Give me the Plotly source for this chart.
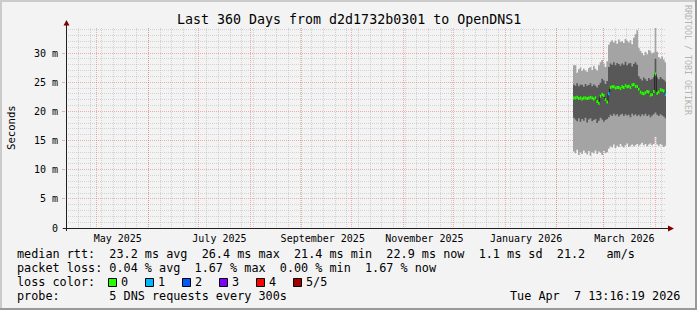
import math
import pandas as pd
import plotly.graph_objects as go

# ---------------- data ----------------
range_start = "2025-04-12 13:16:19"
range_end = "2026-04-07 13:16:19"
first_sample = "2026-02-10 18:00"

# median RTT per column (ms)
median_ms = [22.3, 22.3, 22.4, 22.2, 22.3, 22.1, 22.3, 22.3, 22.2, 22.3,
             22.4, 22.3, 22.1, 22.3, 21.7, 21.4, 22.6, 22.9, 22.7, 22.0,
             21.6, 23.0, 24.1, 24.2, 24.2, 24.0, 24.1, 24.1, 23.9, 24.2,
             24.1, 24.4, 24.2, 24.3, 24.1, 24.5, 24.6, 24.3, 24.2, 23.8,
             23.3, 23.1, 23.0, 23.2, 23.4, 23.3, 22.8, 22.9, 23.4, 26.4,
             23.1, 23.3, 23.7, 23.6, 23.5, 22.9]
# packet loss per column (%)
loss_pct = [0] * 21 + [1.67] + [0] * 33 + [1.67]
# smoke: lowest ping, 2nd ping, 4th ping, highest ping (ms)
ping1_ms = [13.1, 12.8, 13.4, 12.5, 13.0, 12.7, 13.3, 12.9, 12.6, 13.2,
            12.4, 13.0, 12.8, 13.3, 12.7, 13.1, 12.9, 12.5, 13.2, 12.8,
            13.0,
            13.6, 14.0, 13.8, 14.3, 13.7, 14.1, 13.9, 14.4, 14.0, 13.8,
            14.2, 14.5, 13.9, 14.1, 14.3, 14.0, 14.2, 14.4, 14.1, 14.3,
            14.6, 14.2, 14.4, 14.0, 14.3, 14.5, 14.2, 14.4, 15.6, 14.3,
            14.1, 14.4, 14.2, 13.9, 14.1]
ping2_ms = [18.9, 18.6, 18.3, 18.8, 18.2, 18.7, 18.4, 18.9, 18.1, 18.6,
            18.8, 18.3, 18.5, 18.7, 18.0, 18.4, 18.9, 18.6, 18.2, 18.5,
            18.7,
            19.0, 19.4, 19.2, 19.6, 19.3, 19.5, 19.1, 19.4, 19.6, 19.2,
            19.5, 19.3, 19.4, 19.0, 19.6, 19.3, 19.5, 19.2, 19.4, 19.1,
            19.5, 19.3, 19.6, 19.2, 19.4, 19.0, 19.3, 19.5, 19.8, 19.4,
            19.2, 19.5, 19.3, 19.1, 18.8]
ping4_ms = [24.6, 24.4, 24.8, 24.3, 24.6, 24.5, 24.2, 24.7, 24.4, 24.5,
            24.8, 24.3, 24.6, 24.4, 24.1, 24.5, 24.9, 25.6, 25.3, 24.7,
            25.2,
            27.6, 28.2, 28.0, 28.4, 27.9, 28.3, 28.1, 27.8, 28.2, 28.0,
            28.5, 27.9, 28.2, 28.3, 27.7, 28.1, 28.4, 28.0,
            26.0, 25.6, 25.3, 25.8, 25.5, 25.2, 25.7, 25.4, 25.6, 25.9,
            29.0,
            25.8, 25.5, 25.9, 25.6, 25.4, 25.1]
ping5_ms = [27.9, 27.9, 26.6, 27.2, 27.5, 26.9, 27.3, 27.0, 26.8, 27.4,
            27.6, 27.1, 27.8, 27.3, 27.0, 27.9, 28.4, 28.8, 28.2, 27.6,
            28.6,
            31.4, 31.9, 32.2, 31.8, 32.1, 31.6, 32.3, 31.9, 32.0, 31.7,
            32.4, 32.1, 31.8, 32.2, 31.5, 32.6, 33.2, 33.9,
            30.9, 30.4, 30.0, 29.6, 30.2, 29.8, 30.5, 30.3, 29.9, 30.1,
            34.8,
            30.2, 29.3, 29.0, 29.4, 28.9, 28.4]

y_ticks = [0, 5, 10, 15, 20, 25, 30]
y_tick_text = ["0", "5 m", "10 m", "15 m", "20 m", "25 m", "30 m"]
y_max = 34.29
month_labels = ["May 2025", "", "July 2025", "", "September 2025", "",
                "November 2025", "", "January 2026", "", "March 2026", ""]

loss_levels = ["0", "1", "2", "3", "4", "5/5"]
loss_colors = ["#26ff00", "#00b8ff", "#0059ff", "#7e00ff", "#ff0000", "#a10000"]

title = "Last 360 Days from d2d1732b0301 to OpenDNS1"
legend_rows = [
    "median rtt:  23.2 ms avg  26.4 ms max  21.4 ms min  22.9 ms now  1.1 ms sd  21.2   am/s",
    "packet loss: 0.04 % avg  1.67 % max  0.00 % min  1.67 % now",
    "loss color:",
    "probe:       5 DNS requests every 300s",
]
date_text = "Tue Apr  7 13:16:19 2026"
watermark = "RRDTOOL / TOBI OETIKER"

# ---------------- layout geometry ----------------
W, H = 697, 310
L, R, T, B = 66, 31, 28, 82
PW, PH = W - L - R, H - T - B
MONO = "DejaVu Sans Mono, monospace"
BG = "#f3f3f3"
GRID = "rgba(143,143,143,0.32)"
MGRID = "rgba(222,79,79,0.42)"
ARROW = "#800000"


def px(xp):
    return (xp - L) / PW


def py(yp):
    return (H - B - yp) / PH


def nb(s):
    return s.replace(" ", "\u00a0")


times = pd.date_range(first_sample, periods=len(median_ms), freq="D")
step_x = list(times) + [times[-1] + pd.Timedelta(days=1)]


def step(v):
    return list(v) + [v[-1]]


fig = go.Figure()

# smoke
fig.add_trace(go.Scatter(x=step_x, y=step(ping1_ms), mode="lines", line=dict(width=0, shape="hv"),
                         hoverinfo="skip", showlegend=False))
fig.add_trace(go.Scatter(x=step_x, y=step(ping5_ms), mode="lines", line=dict(width=0, shape="hv"),
                         fill="tonexty", fillcolor="#a4a4a4", hoverinfo="skip", showlegend=False))
fig.add_trace(go.Scatter(x=step_x, y=step(ping2_ms), mode="lines", line=dict(width=0, shape="hv"),
                         hoverinfo="skip", showlegend=False))
fig.add_trace(go.Scatter(x=step_x, y=step(ping4_ms), mode="lines", line=dict(width=0, shape="hv"),
                         fill="tonexty", fillcolor="#585858", hoverinfo="skip", showlegend=False))

# median base line
fig.add_trace(go.Scatter(x=step_x, y=step(median_ms), mode="lines",
                         line=dict(width=1, shape="hv", color="#202020"),
                         hoverinfo="skip", showlegend=False))

# loss coloured median segments
n_pings = 5
seg = {k: ([], []) for k in range(len(loss_colors))}
for i, m in enumerate(median_ms):
    k = min(len(loss_colors) - 1, math.ceil(loss_pct[i] / 100 * n_pings))
    seg[k][0].extend([step_x[i], step_x[i + 1], None])
    seg[k][1].extend([m, m, None])
for k, (xs, ys) in seg.items():
    if xs:
        fig.add_trace(go.Scatter(x=xs, y=ys, mode="lines",
                                 line=dict(width=3, color=loss_colors[k]),
                                 hoverinfo="skip", showlegend=False))

month_starts = pd.date_range("2025-05-01", "2026-04-01", freq="MS")
weeks = pd.date_range("2025-04-13", "2026-04-07", freq="W-SUN")
minor_y = [v for v in range(1, 35) if v % 5 != 0]

fig.update_layout(
    width=W, height=H, autosize=False,
    margin=dict(l=L, r=R, t=T, b=B, pad=0),
    paper_bgcolor=BG, plot_bgcolor=BG,
    showlegend=False,
    xaxis=dict(
        type="date", range=[range_start, range_end],
        tickmode="array", tickvals=list(month_starts), ticktext=month_labels,
        ticklabelshift=21, ticklabelstandoff=3,
        showgrid=True, gridcolor=MGRID, griddash="1px,1px", gridwidth=1,
        ticks="", showline=False, zeroline=False,
        tickfont=dict(family=MONO, size=10, color="#000"),
        minor=dict(tickmode="array", tickvals=list(weeks), showgrid=True,
                   gridcolor=GRID, griddash="1px,1px", gridwidth=1, ticks=""),
        fixedrange=True,
    ),
    yaxis=dict(
        range=[0, y_max],
        tickmode="array", tickvals=y_ticks, ticktext=y_tick_text,
        showgrid=True, gridcolor=MGRID, griddash="1px,1px", gridwidth=1,
        ticks="outside", ticklen=3, tickcolor=MGRID, ticklabelstandoff=2,
        showline=False, zeroline=False,
        tickfont=dict(family=MONO, size=10, color="#000"),
        minor=dict(tickmode="array", tickvals=minor_y, showgrid=True,
                   gridcolor=GRID, griddash="1px,1px", gridwidth=1, ticks=""),
        fixedrange=True,
    ),
)

ann = []
ann.append(dict(text=nb(title), x=px(348.5), y=py(19), xanchor="center", yanchor="middle",
                font=dict(family=MONO, size=13.3, color="#000")))
ann.append(dict(text="Seconds", x=px(11), y=py(128), textangle=-90, xanchor="center", yanchor="middle",
                font=dict(family=MONO, size=10.6, color="#000")))
ann.append(dict(text=nb(watermark), x=px(688), y=py(60), textangle=90, xanchor="center", yanchor="middle",
                font=dict(family=MONO, size=8.3, color="#b4b4b4")))
row_y = [254, 268, 282, 296]
for s, yy in zip(legend_rows, row_y):
    ann.append(dict(text=nb(s), x=px(16), y=py(yy), xanchor="left", yanchor="middle",
                    font=dict(family=MONO, size=11.8, color="#000")))
ann.append(dict(text=nb(date_text), x=px(681), y=py(296), xanchor="right", yanchor="middle",
                font=dict(family=MONO, size=11.8, color="#000")))

shapes = []
for k, (lab, col) in enumerate(zip(loss_levels, loss_colors)):
    x0 = 108.5 + 37 * k
    shapes.append(dict(type="rect", xref="paper", yref="paper",
                       x0=px(x0), x1=px(x0 + 8), y0=py(286.5), y1=py(278.5),
                       fillcolor=col, line=dict(color="#000", width=1)))
    ann.append(dict(text=lab, x=px(x0 + 11), y=py(282), xanchor="left", yanchor="middle",
                    font=dict(family=MONO, size=11.8, color="#000")))

for a in ann:
    a.update(xref="paper", yref="paper", showarrow=False, borderpad=0)

# axis lines and arrows
shapes.append(dict(type="line", xref="paper", yref="paper", x0=px(66.5), x1=px(66.5),
                   y0=py(231), y1=py(24), line=dict(color="#202020", width=1)))
shapes.append(dict(type="line", xref="paper", yref="paper", x0=px(63), x1=px(669),
                   y0=py(228.5), y1=py(228.5), line=dict(color="#202020", width=1)))
shapes.append(dict(type="path", xref="paper", yref="paper",
                   path=f"M {px(63.5)},{py(25.5)} L {px(69.5)},{py(25.5)} L {px(66.5)},{py(20)} Z",
                   fillcolor=ARROW, line=dict(color=ARROW, width=0)))
shapes.append(dict(type="path", xref="paper", yref="paper",
                   path=f"M {px(668)},{py(225.5)} L {px(668)},{py(231.5)} L {px(674)},{py(228.5)} Z",
                   fillcolor=ARROW, line=dict(color=ARROW, width=0)))
# frame shading
shapes.append(dict(type="rect", xref="paper", yref="paper", x0=px(0), x1=px(W), y0=py(0), y1=py(2),
                   fillcolor="#cbcbcb", line=dict(width=0)))
shapes.append(dict(type="rect", xref="paper", yref="paper", x0=px(0), x1=px(2), y0=py(0), y1=py(H),
                   fillcolor="#cbcbcb", line=dict(width=0)))
shapes.append(dict(type="rect", xref="paper", yref="paper", x0=px(0), x1=px(W), y0=py(H - 2), y1=py(H),
                   fillcolor="#999999", line=dict(width=0)))
shapes.append(dict(type="rect", xref="paper", yref="paper", x0=px(W - 2), x1=px(W), y0=py(0), y1=py(H),
                   fillcolor="#999999", line=dict(width=0)))

fig.update_layout(annotations=ann, shapes=shapes)
fig.write_html("out.html")
